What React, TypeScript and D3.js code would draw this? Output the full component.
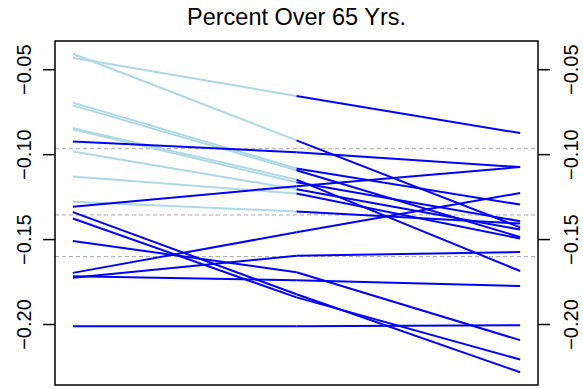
import React, { useEffect, useRef } from 'react';
import * as d3 from 'd3';

// three time points per line (left, middle, right)
const first: number[] = [-0.0406, -0.0429, -0.0694, -0.0710, -0.0844, -0.0851, -0.0922, -0.0981, -0.1128, -0.1278, -0.1306, -0.1338, -0.1376, -0.1508, -0.1696, -0.1716, -0.1724, -0.2010];
const second: number[] = [-0.0916, -0.0655, -0.1081, -0.1092, -0.1147, -0.1163, -0.0986, -0.1204, -0.1229, -0.1334, -0.1186, -0.1822, -0.1840, -0.1692, -0.1457, -0.1739, -0.1595, -0.2010];
const third: number[] = [-0.1428, -0.0873, -0.1294, -0.1485, -0.1685, -0.1392, -0.1073, -0.1441, -0.1494, -0.1406, -0.1073, -0.2281, -0.2206, -0.2092, -0.1226, -0.1773, -0.1573, -0.2004];
// whether the first segment is drawn light blue
const lightFirst: boolean[] = [true, true, true, true, true, true, false, true, true, true, false, false, false, false, false, false, false, false];
const refLevels: number[] = [-0.0965, -0.1355, -0.16];
const yTicks: number[] = [-0.05, -0.10, -0.15, -0.20];
const title = 'Percent Over 65 Yrs.';

const W = 583;
const H = 389;
const box = { left: 55, right: 538, top: 41, bottom: 385 };

const Chart: React.FC = () => {
    const svgRef = useRef<SVGSVGElement>(null);

    useEffect(() => {
        if (!svgRef.current) return;
        const svg = d3.select(svgRef.current);
        svg.selectAll('*').remove();

        const all = [...first, ...second, ...third];
        const lo = d3.min(all) as number;
        const hi = d3.max(all) as number;
        const pad = (hi - lo) * 0.04;

        const x = d3.scaleLinear().domain([0.92, 3.08]).range([box.left, box.right]);
        const y = d3.scaleLinear().domain([lo - pad, hi + pad]).range([box.bottom, box.top]);

        const font = 'Liberation Sans, Arial, Helvetica, sans-serif';

        // dashed reference levels
        svg.append('g')
            .selectAll('line')
            .data(refLevels)
            .join('line')
            .attr('x1', box.left)
            .attr('x2', box.right)
            .attr('y1', d => y(d))
            .attr('y2', d => y(d))
            .style('stroke', '#aaaaaa')
            .style('stroke-width', 1)
            .style('stroke-dasharray', '4,3');

        const line = d3.line<[number, number]>()
            .x(d => x(d[0]))
            .y(d => y(d[1]));

        first.forEach((v, i) => {
            svg.append('path')
                .datum([[1, v], [2, second[i]]] as [number, number][])
                .attr('d', line)
                .style('fill', 'none')
                .style('stroke', lightFirst[i] ? '#add8e6' : '#0000ff')
                .style('stroke-width', 2);
        });
        first.forEach((_, i) => {
            svg.append('path')
                .datum([[2, second[i]], [3, third[i]]] as [number, number][])
                .attr('d', line)
                .style('fill', 'none')
                .style('stroke', '#0000ff')
                .style('stroke-width', 2);
        });

        // left and right axes
        const leftAxis = d3.axisLeft(y).tickValues(yTicks).tickSize(12).tickFormat(d3.format('.2f'));
        const rightAxis = d3.axisRight(y).tickValues(yTicks).tickSize(12).tickFormat(d3.format('.2f'));

        const gl = svg.append('g').attr('transform', `translate(${box.left},0)`).call(leftAxis);
        const gr = svg.append('g').attr('transform', `translate(${box.right},0)`).call(rightAxis);
        [gl, gr].forEach(g => {
            g.select('.domain').remove();
            g.selectAll('.tick').attr('transform', null);
            g.selectAll<SVGLineElement, number>('.tick line')
                .attr('y1', d => y(d))
                .attr('y2', d => y(d))
                .style('stroke', '#000')
                .style('stroke-width', 1.5);
        });
        const labelX: [typeof gl, number][] = [[gl, 24 - box.left], [gr, 571 - box.right]];
        labelX.forEach(([g, lx]) => {
            g.selectAll<SVGTextElement, number>('.tick text')
                .attr('x', 0)
                .attr('y', 0)
                .attr('dy', null)
                .attr('transform', d => `translate(${lx},${y(d)}) rotate(-90)`)
                .attr('text-anchor', 'middle')
                .attr('dominant-baseline', 'central')
                .style('font-family', font)
                .style('font-size', '20px')
                .style('fill', '#000');
        });

        // plot box
        svg.append('rect')
            .attr('x', box.left)
            .attr('y', box.top)
            .attr('width', box.right - box.left)
            .attr('height', box.bottom - box.top)
            .style('fill', 'none')
            .style('stroke', '#000')
            .style('stroke-width', 1.5);

        svg.append('text')
            .attr('x', (box.left + box.right) / 2)
            .attr('y', 25)
            .attr('text-anchor', 'middle')
            .style('font-family', font)
            .style('font-size', '23.5px')
            .style('fill', '#000')
            .text(title);
    }, []);

    return <svg ref={svgRef} width={W} height={H} style={{ position: 'absolute', left: 0, top: 0, background: '#fff' }} />;
};

const App: React.FC = () => <Chart />;

export default App;
